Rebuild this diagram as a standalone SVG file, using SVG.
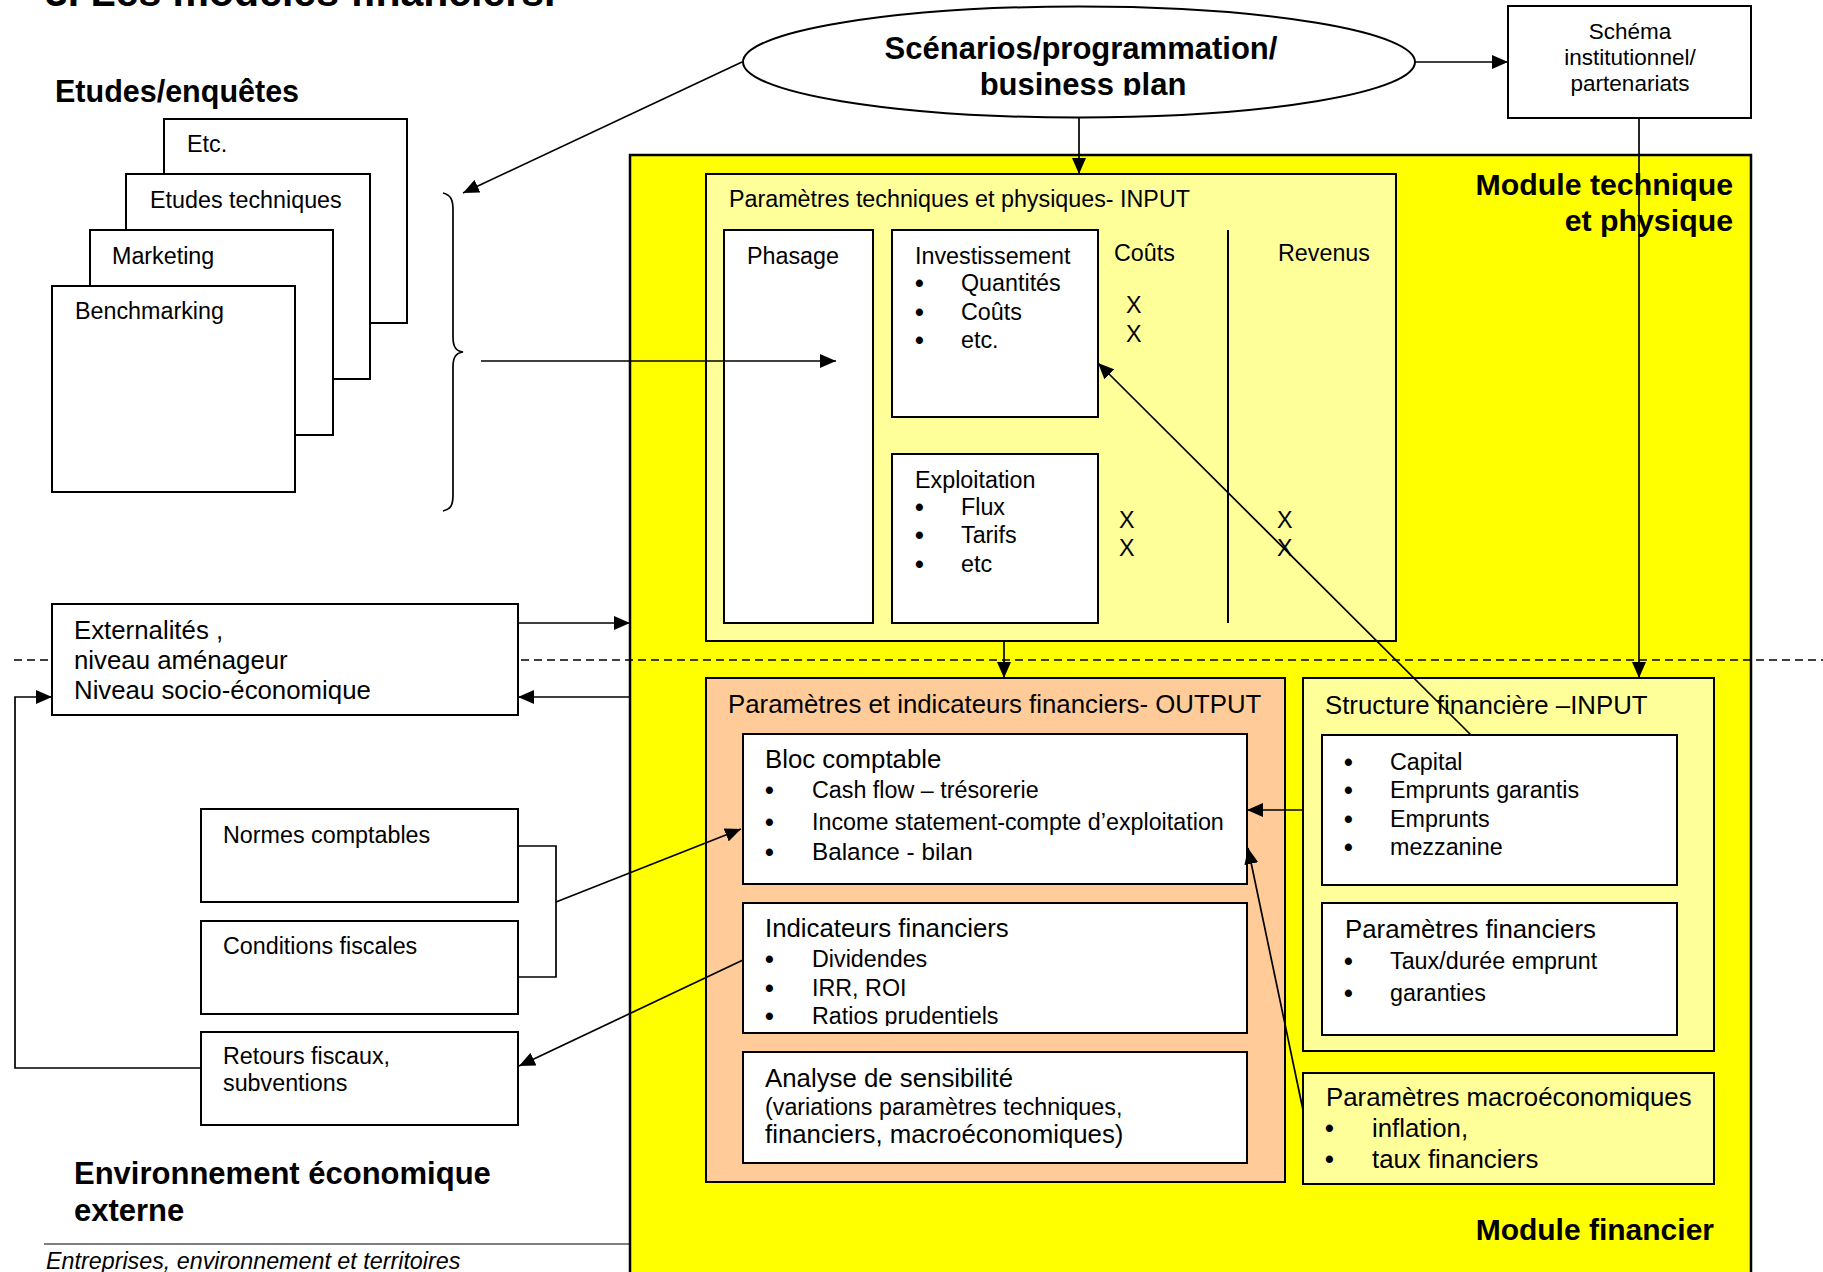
<svg xmlns="http://www.w3.org/2000/svg" width="1823" height="1272" viewBox="0 0 1823 1272">
  <defs>
    <style>
      text { font-family: "Liberation Sans", Arial, Helvetica, sans-serif; fill: #000; }
      .s22 { font-size: 22.5px; }
      .s23 { font-size: 23.3px; }
      .s24 { font-size: 24.3px; }
      .s26 { font-size: 25.8px; }
      .dot { font-size: 25px; font-weight: bold; }
      .bold { font-weight: bold; }
      .it { font-style: italic; }
      .mid { text-anchor: middle; }
      .end { text-anchor: end; }
      .white { fill: #ffffff; stroke: #000; stroke-width: 2; }
      .pale { fill: #ffff99; stroke: #000; stroke-width: 2; }
      .peach { fill: #ffcc99; stroke: #000; stroke-width: 2; }
      .line { fill: none; stroke: #000; stroke-width: 1.7; }
      .arrow { marker-end: url(#head); }
      .dash { fill: none; stroke: #000; stroke-width: 1.6; stroke-dasharray: 8 5; }
    </style>
    <marker id="head" markerUnits="userSpaceOnUse" markerWidth="17" markerHeight="14" refX="16" refY="7" orient="auto">
      <path d="M0,0 L16,7 L0,14 z" fill="#000"/>
    </marker>
    <clipPath id="clipEllipseText"><rect x="700" y="0" width="760" height="95.5"/></clipPath>
    <clipPath id="clipIndicators"><rect x="743" y="903" width="504" height="123"/></clipPath>
  </defs>

  <rect x="0" y="0" width="1823" height="1272" fill="#ffffff"/>

  <!-- page heading, cut by the top edge -->
  <text id="heading" x="45" y="6" class="bold" font-size="41">3. Les modèles financiers.</text>

  <!-- large yellow module area -->
  <g id="module-area">
    <rect x="630" y="155" width="1121" height="1140" fill="#ffff00" stroke="#000" stroke-width="2.5"/>
    <text x="1733" y="195" class="bold end" font-size="30.3">Module technique</text>
    <text x="1733" y="231" class="bold end" font-size="30.3">et physique</text>
    <text x="1714" y="1240" class="bold end" font-size="30">Module financier</text>
  </g>

  <!-- boundary between the inner model and the external environment -->
  <line id="boundary" class="dash" x1="14" y1="660" x2="1823" y2="660"/>

  <!-- studies -->
  <g id="studies">
    <text x="55" y="102" class="bold" font-size="30.5">Etudes/enquêtes</text>
    <g id="etc">
      <rect class="white" x="164" y="119" width="243" height="204"/>
      <text x="187" y="152" class="s23">Etc.</text>
    </g>
    <g id="etudes-techniques">
      <rect class="white" x="126" y="174" width="244" height="205"/>
      <text x="150" y="208" class="s23">Etudes techniques</text>
    </g>
    <g id="marketing">
      <rect class="white" x="90" y="230" width="243" height="205"/>
      <text x="112" y="264" class="s23">Marketing</text>
    </g>
    <g id="benchmarking">
      <rect class="white" x="52" y="286" width="243" height="206"/>
      <text x="75" y="319" class="s23">Benchmarking</text>
    </g>
    <path id="brace" class="line" d="M443,193 C451,195 453,200 453,210 L453,337 C453,347 456,351 463,352 C456,353 453,357 453,367 L453,495 C453,505 451,509 443,511"/>
  </g>

  <!-- scenarios ellipse -->
  <g id="scenarios">
    <ellipse cx="1079" cy="62" rx="336" ry="55.5" fill="#ffffff" stroke="#000" stroke-width="2"/>
    <g clip-path="url(#clipEllipseText)">
      <text x="1081" y="59" class="bold mid" font-size="31">Scénarios/programmation/</text>
      <text x="1083" y="95" class="bold mid" font-size="31">business plan</text>
    </g>
  </g>

  <!-- institutional scheme -->
  <g id="schema">
    <rect class="white" x="1508" y="6" width="243" height="112"/>
    <text x="1630" y="39" class="s22 mid">Schéma</text>
    <text x="1630" y="65" class="s22 mid">institutionnel/</text>
    <text x="1630" y="91" class="s22 mid">partenariats</text>
  </g>

  <!-- technical and physical parameters -->
  <g id="param-techniques">
    <rect class="pale" x="706" y="174" width="690" height="467"/>
    <text x="729" y="207" class="s23">Paramètres techniques et physiques- INPUT</text>
    <g id="phasage">
      <rect class="white" x="724" y="230" width="149" height="393"/>
      <text x="747" y="264" class="s23">Phasage</text>
    </g>
    <g id="investissement">
      <rect class="white" x="892" y="230" width="206" height="187"/>
      <text x="915" y="264" class="s23">Investissement</text>
      <text x="915" y="292" class="dot">•</text><text x="961" y="291" class="s23">Quantités</text>
      <text x="915" y="321" class="dot">•</text><text x="961" y="320" class="s23">Coûts</text>
      <text x="915" y="349" class="dot">•</text><text x="961" y="348" class="s23">etc.</text>
    </g>
    <g id="exploitation">
      <rect class="white" x="892" y="454" width="206" height="169"/>
      <text x="915" y="488" class="s23">Exploitation</text>
      <text x="915" y="516" class="dot">•</text><text x="961" y="515" class="s23">Flux</text>
      <text x="915" y="544" class="dot">•</text><text x="961" y="543" class="s23">Tarifs</text>
      <text x="915" y="573" class="dot">•</text><text x="961" y="572" class="s23">etc</text>
    </g>
    <g id="couts-revenus">
      <text x="1114" y="261" class="s23">Coûts</text>
      <text x="1278" y="261" class="s23">Revenus</text>
      <line x1="1228" y1="230" x2="1228" y2="623" stroke="#000" stroke-width="2"/>
      <text x="1126" y="313" class="s23">X</text>
      <text x="1126" y="342" class="s23">X</text>
      <text x="1119" y="528" class="s23">X</text>
      <text x="1119" y="556" class="s23">X</text>
      <text x="1277" y="528" class="s23">X</text>
      <text x="1277" y="556" class="s23">X</text>
    </g>
  </g>

  <!-- financial output -->
  <g id="param-output">
    <rect class="peach" x="706" y="678" width="579" height="504"/>
    <text x="728" y="713" class="s26">Paramètres et indicateurs financiers- OUTPUT</text>
    <g id="bloc-comptable">
      <rect class="white" x="743" y="734" width="504" height="150"/>
      <text x="765" y="768" class="s26">Bloc comptable</text>
      <text x="765" y="799" class="dot">•</text><text x="812" y="798" class="s23">Cash flow – trésorerie</text>
      <text x="765" y="831" class="dot">•</text><text x="812" y="830" class="s23">Income statement-compte d’exploitation</text>
      <text x="765" y="861" class="dot">•</text><text x="812" y="860" class="s24">Balance - bilan</text>
    </g>
    <g id="indicateurs">
      <rect class="white" x="743" y="903" width="504" height="130"/>
      <g clip-path="url(#clipIndicators)">
        <text x="765" y="937" class="s26">Indicateurs financiers</text>
        <text x="765" y="968" class="dot">•</text><text x="812" y="967" class="s23">Dividendes</text>
        <text x="765" y="997" class="dot">•</text><text x="812" y="996" class="s23">IRR, ROI</text>
        <text x="765" y="1025" class="dot">•</text><text x="812" y="1024" class="s23">Ratios prudentiels</text>
      </g>
    </g>
    <g id="sensibilite">
      <rect class="white" x="743" y="1052" width="504" height="111"/>
      <text x="765" y="1087" class="s26">Analyse  de sensibilité</text>
      <text x="765" y="1115" class="s23">(variations paramètres techniques,</text>
      <text x="765" y="1143" class="s26">financiers, macroéconomiques)</text>
    </g>
  </g>

  <!-- financial structure input -->
  <g id="structure-financiere">
    <rect class="pale" x="1303" y="678" width="411" height="373"/>
    <text x="1325" y="714" class="s26">Structure financière –INPUT</text>
    <g id="capital">
      <rect class="white" x="1322" y="735" width="355" height="150"/>
      <text x="1344" y="771" class="dot">•</text><text x="1390" y="770" class="s23">Capital</text>
      <text x="1344" y="799" class="dot">•</text><text x="1390" y="798" class="s23">Emprunts garantis</text>
      <text x="1344" y="828" class="dot">•</text><text x="1390" y="827" class="s23">Emprunts</text>
      <text x="1344" y="856" class="dot">•</text><text x="1390" y="855" class="s23">mezzanine</text>
    </g>
    <g id="param-financiers">
      <rect class="white" x="1322" y="903" width="355" height="132"/>
      <text x="1345" y="938" class="s26">Paramètres financiers</text>
      <text x="1344" y="970" class="dot">•</text><text x="1390" y="969" class="s23">Taux/durée emprunt</text>
      <text x="1344" y="1002" class="dot">•</text><text x="1390" y="1001" class="s23">garanties</text>
    </g>
  </g>

  <g id="param-macro">
    <rect class="pale" x="1303" y="1073" width="411" height="111"/>
    <text x="1326" y="1106" class="s26">Paramètres macroéconomiques</text>
    <text x="1325" y="1137" class="dot">•</text><text x="1372" y="1137" class="s26">inflation,</text>
    <text x="1325" y="1168" class="dot">•</text><text x="1372" y="1168" class="s26">taux financiers</text>
  </g>

  <!-- external environment -->
  <g id="externalites">
    <rect class="white" x="52" y="604" width="466" height="111"/>
    <text x="74" y="639" class="s26">Externalités ,</text>
    <text x="74" y="669" class="s26">niveau aménageur</text>
    <text x="74" y="699" class="s26">Niveau socio-économique</text>
  </g>
  <g id="normes">
    <rect class="white" x="201" y="809" width="317" height="93"/>
    <text x="223" y="843" class="s23">Normes comptables</text>
  </g>
  <g id="conditions">
    <rect class="white" x="201" y="921" width="317" height="93"/>
    <text x="223" y="954" class="s23">Conditions fiscales</text>
  </g>
  <g id="retours">
    <rect class="white" x="201" y="1032" width="317" height="93"/>
    <text x="223" y="1064" class="s23">Retours fiscaux,</text>
    <text x="223" y="1091" class="s23">subventions</text>
  </g>
  <g id="environnement">
    <text x="74" y="1184" class="bold" font-size="31">Environnement économique</text>
    <text x="74" y="1221" class="bold" font-size="31">externe</text>
  </g>
  <g id="footer">
    <line x1="44" y1="1244" x2="630" y2="1244" stroke="#000" stroke-width="1.2"/>
    <text x="46" y="1269" class="s23 it">Entreprises, environnement et territoires</text>
  </g>

  <!-- connectors -->
  <g id="connectors">
    <line class="line arrow" x1="742" y1="62" x2="463" y2="193"/>
    <line class="line arrow" x1="1415" y1="62" x2="1508" y2="62"/>
    <line class="line arrow" x1="1079" y1="118" x2="1079" y2="174"/>
    <line class="line arrow" x1="481" y1="361" x2="836" y2="361"/>
    <line class="line arrow" x1="1639" y1="118" x2="1639" y2="678"/>
    <line class="line arrow" x1="1004" y1="641" x2="1004" y2="678"/>
    <line class="line arrow" x1="1471" y1="735" x2="1098" y2="363"/>
    <line class="line arrow" x1="1303" y1="810" x2="1247" y2="810"/>
    <line class="line arrow" x1="1303" y1="1110" x2="1248" y2="848"/>
    <line class="line arrow" x1="518" y1="623" x2="630" y2="623"/>
    <line class="line arrow" x1="630" y1="697" x2="518" y2="697"/>
    <polyline class="line arrow" points="201,1068 15,1068 15,697 52,697"/>
    <polyline class="line" points="518,846 556,846 556,977 518,977"/>
    <line class="line arrow" x1="556" y1="902" x2="741" y2="829"/>
    <line class="line arrow" x1="743" y1="960" x2="519" y2="1066"/>
  </g>
</svg>
